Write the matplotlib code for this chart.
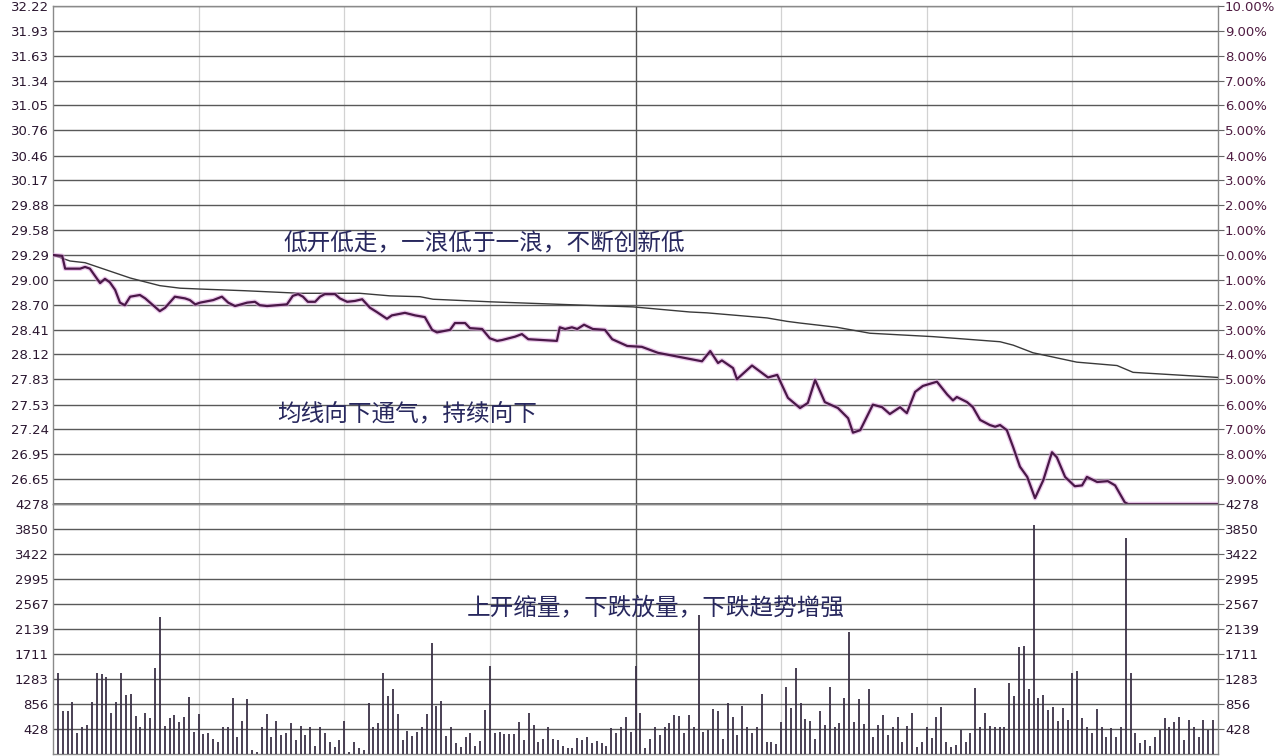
import matplotlib
matplotlib.use("Agg")
import matplotlib.pyplot as plt

plt.rcParams['font.family'] = ['Noto Sans CJK SC', 'DejaVu Sans']

# ---------------- data ----------------
prev_close = 29.29
price_ticks = [32.22, 31.93, 31.63, 31.34, 31.05, 30.76, 30.46, 30.17, 29.88, 29.58,
               29.29, 29.00, 28.70, 28.41, 28.12, 27.83, 27.53, 27.24, 26.95, 26.65]
price_tick_labels = ["32.22", "31.93", "31.63", "31.34", "31.05", "30.76", "30.46", "30.17", "29.88", "29.58",
                     "29.29", "29.00", "28.70", "28.41", "28.12", "27.83", "27.53", "27.24", "26.95", "26.65"]
pct_tick_labels = ["10.00%", "9.00%", "8.00%", "7.00%", "6.00%", "5.00%", "4.00%", "3.00%", "2.00%", "1.00%",
                   "0.00%", "1.00%", "2.00%", "3.00%", "4.00%", "5.00%", "6.00%", "7.00%", "8.00%", "9.00%"]
price_low, price_high = 26.361, 32.219

vol_ticks = [428, 856, 1283, 1711, 2139, 2567, 2995, 3422, 3850, 4278]
vol_tick_labels = ["428", "856", "1283", "1711", "2139", "2567", "2995", "3422", "3850", "4278"]
vol_max = 4278

price_minutes = [0, 1.9, 2.5, 5.6, 6.6, 7.6, 9.7, 10.7, 11.7, 12.8, 13.8, 14.8, 15.9, 17.9, 19.0, 20.0,
                 22.0, 23.1, 25.1, 27.2, 28.2, 29.3, 30.3, 33.0, 34.8, 36.1, 37.5, 40.0, 41.6, 42.6, 44.1,
                 48.2, 49.4, 50.5, 51.5, 52.5, 54.0, 55.0, 56.0, 58.1, 59.1, 60.6, 62.2, 63.7, 65.3, 66.7,
                 68.8, 69.8, 72.5, 74.6, 76.6, 78.1, 79.1, 81.8, 82.8, 84.9, 85.9, 88.4, 90.0, 91.5, 92.5,
                 95.2, 96.6, 97.9, 103.8, 104.4, 105.5, 106.9, 108.0, 109.4, 111.2, 113.7, 115.2, 118.3,
                 121.3, 124.6, 129.2, 133.7, 135.4, 137.0, 137.8, 140.1, 140.9, 144.0, 147.3, 149.2, 151.4,
                 153.9, 155.5, 157.0, 159.0, 161.7, 163.8, 164.8, 166.3, 168.9, 170.8, 172.4, 174.5, 175.9,
                 177.6, 179.2, 182.1, 184.2, 185.4, 186.2, 188.3, 189.5, 191.0, 193.0, 194.1, 195.1, 196.5,
                 197.8, 199.2, 200.7, 202.3, 204.0, 205.8, 206.8, 208.5, 210.5, 212.0, 213.0, 215.1, 217.3,
                 218.8, 220.8, 221.5, 240]
price_values = [29.29, 29.28, 29.13, 29.13, 29.15, 29.13, 28.96, 29.01, 28.97, 28.88, 28.73, 28.70, 28.80,
                28.82, 28.78, 28.73, 28.63, 28.67, 28.80, 28.78, 28.76, 28.71, 28.73, 28.76, 28.80, 28.73,
                28.69, 28.73, 28.74, 28.70, 28.69, 28.71, 28.81, 28.83, 28.80, 28.74, 28.74, 28.80, 28.83,
                28.83, 28.78, 28.74, 28.75, 28.77, 28.67, 28.62, 28.54, 28.58, 28.61, 28.58, 28.56, 28.41,
                28.38, 28.41, 28.49, 28.49, 28.43, 28.42, 28.31, 28.28, 28.29, 28.33, 28.36, 28.30, 28.28,
                28.44, 28.42, 28.44, 28.42, 28.47, 28.42, 28.41, 28.30, 28.22, 28.21, 28.14, 28.09, 28.04,
                28.16, 28.02, 28.05, 27.96, 27.83, 27.99, 27.85, 27.88, 27.61, 27.49, 27.55, 27.82, 27.56,
                27.49, 27.37, 27.20, 27.23, 27.53, 27.50, 27.42, 27.50, 27.43, 27.68, 27.75, 27.80, 27.65,
                27.58, 27.62, 27.56, 27.50, 27.35, 27.29, 27.27, 27.29, 27.23, 27.03, 26.80, 26.68, 26.43,
                26.64, 26.97, 26.91, 26.68, 26.57, 26.58, 26.68, 26.62, 26.63, 26.58, 26.38, 26.36, 26.36]

avg_minutes = [0, 3.5, 6.6, 9.7, 12.8, 15.9, 17.9, 22.0, 26.2, 30.3, 39.6, 50.9, 63.2, 69.4, 75.6, 78.3,
               90.0, 109.2, 119.5, 131.2, 134.7, 147.1, 151.2, 153.9, 161.5, 168.3, 181.3, 195.1, 197.8,
               201.9, 206.0, 210.9, 219.2, 222.5, 240]
avg_values = [29.29, 29.22, 29.20, 29.14, 29.08, 29.02, 28.99, 28.93, 28.90, 28.89, 28.87, 28.84, 28.84,
              28.81, 28.80, 28.77, 28.74, 28.70, 28.68, 28.62, 28.61, 28.55, 28.51, 28.49, 28.44, 28.37,
              28.33, 28.27, 28.23, 28.14, 28.09, 28.03, 27.99, 27.91, 27.85]

volumes = [
    1380, 740, 735, 895, 365, 467, 495, 895, 1390, 1370,
    1310, 695, 895, 1380, 1010, 1020, 650, 467, 705, 610,
    1480, 2350, 485, 610, 667, 553, 627, 970, 370, 684,
    336, 353, 257, 210, 456, 456, 950, 296, 570, 935,
    68, 28, 456, 684, 296, 565, 325, 353, 524, 240,
    479, 325, 456, 137, 456, 365, 210, 114, 240, 570,
    30, 210, 97, 68, 866, 456, 536, 1390, 992, 1106,
    684, 240, 400, 308, 382, 456, 684, 1900, 820, 906,
    308, 456, 194, 125, 296, 365, 137, 228, 752, 1505,
    353, 382, 342, 336, 336, 553, 240, 695, 496, 210,
    250, 467, 250, 240, 137, 108, 97, 268, 240, 296,
    194, 228, 194, 137, 439, 365, 456, 627, 382,
    1505, 707, 97, 250, 467, 325, 456, 536, 667, 650,
    365, 667, 456, 2380, 382, 410, 764, 741, 250, 866,
    638, 325, 820, 456, 365, 456, 1020, 210, 210, 171,
    553, 1140, 781, 1465, 878, 598, 570, 250, 741, 496,
    1140, 456, 524, 952, 2090, 553, 935, 513, 1106, 296,
    496, 667, 325, 467, 638, 210, 479, 707, 125, 210,
    467, 268, 638, 798, 210, 125, 154, 410, 210, 365,
    1123, 456, 695, 479, 456, 467, 467, 1220, 992, 1835,
    1847, 1106, 3916, 952, 1009, 752, 798, 570, 781, 581,
    1380, 1425, 610, 456, 365, 764, 456, 296, 439, 296,
    456, 3694, 1380, 353, 182, 240, 137, 296, 410, 610,
    467, 553, 638, 240, 581, 456, 296, 581, 410, 581,
]
vol_minutes = list(range(1, len(volumes) + 1))

grid_minutes = [30, 60, 90, 150, 180, 210]
midday_minute = 120

annotations_price = [("低开低走，一浪低于一浪，不断创新低", 47.4, 29.43),
                     ("均线向下通气，持续向下", 46.1, 27.41)]
annotation_vol = ("上开缩量，下跌放量，下跌趋势增强", 85.3, 2480)

# ---------------- figure ----------------
W, H = 1280, 756
fig = plt.figure(figsize=(W / 100, H / 100), dpi=100)
fig.patch.set_facecolor('white')

left_px, right_px = 53, 1218
top_px, mid_px, bot_px = 6, 504, 754
ax_p = fig.add_axes([left_px / W, 1 - mid_px / H, (right_px - left_px) / W, (mid_px - top_px) / H])
ax_v = fig.add_axes([left_px / W, 1 - bot_px / H, (right_px - left_px) / W, (bot_px - mid_px) / H])

grid_col = '#595959'
label_left_col = '#2b1730'
label_right_col = '#4f1c42'
tick_font = dict(family='DejaVu Sans', size=9.5)

for ax in (ax_p, ax_v):
    ax.set_xlim(0, 240)
    ax.set_facecolor('white')
    ax.set_xticks([])
    for m in grid_minutes:
        ax.axvline(m, color='#d2d2d2', lw=0.9, zorder=0)
    ax.axvline(midday_minute, color='#555555', lw=1.0, zorder=0)
    for s in ax.spines.values():
        s.set_color('#8a8a8a')
        s.set_linewidth(1.0)

# price panel
ax_p.set_ylim(price_low, price_high)
ax_p.set_yticks(price_ticks)
ax_p.set_yticklabels(price_tick_labels, color=label_left_col, **tick_font)
ax_p.tick_params(axis='y', length=0, pad=3)
for v in price_ticks:
    ax_p.axhline(v, color=grid_col, lw=1.0, zorder=1)
ax_p.axhline(price_low, color='#444444', lw=1.2, zorder=1)

ax_p.plot(avg_minutes, avg_values, color='#3a3a3a', lw=1.0, zorder=3)
ax_p.plot(price_minutes, price_values, color='#dc9fdc', lw=3.4, alpha=0.55, zorder=3,
          solid_joinstyle='round')
ax_p.plot(price_minutes, price_values, color='#4a1848', lw=1.6, zorder=4, solid_joinstyle='round')

axr = ax_p.twinx()
axr.set_ylim(price_low, price_high)
axr.set_yticks(price_ticks)
axr.set_yticklabels(pct_tick_labels, color=label_right_col, **tick_font)
axr.tick_params(axis='y', length=4, color='#666666', pad=1)
axr.set_xticks([])
for s in axr.spines.values():
    s.set_visible(False)

for txt, xm, yv in annotations_price:
    ax_p.text(xm, yv, txt, fontsize=17, color='#28285e', ha='left', va='center',
              family=['Noto Sans CJK SC', 'DejaVu Sans'], zorder=6)

# volume panel
ax_v.set_ylim(0, vol_max)
ax_v.set_yticks(vol_ticks)
ax_v.set_yticklabels(vol_tick_labels, color=label_left_col, **tick_font)
ax_v.tick_params(axis='y', length=0, pad=3)
for v in vol_ticks:
    ax_v.axhline(v, color=grid_col, lw=1.0, zorder=1)
ax_v.vlines(vol_minutes, 0, volumes, color='#3b3146', lw=1.3, zorder=3)

axvr = ax_v.twinx()
axvr.set_ylim(0, vol_max)
axvr.set_yticks(vol_ticks)
axvr.set_yticklabels(vol_tick_labels, color=label_left_col, **tick_font)
axvr.tick_params(axis='y', length=4, color='#666666', pad=1)
axvr.set_xticks([])
for s in axvr.spines.values():
    s.set_visible(False)

txt, xm, yv = annotation_vol
ax_v.text(xm, yv, txt, fontsize=17, color='#28285e', ha='left', va='center',
          family=['Noto Sans CJK SC', 'DejaVu Sans'], zorder=6)

fig.savefig('out.png', dpi=100, facecolor='white')
